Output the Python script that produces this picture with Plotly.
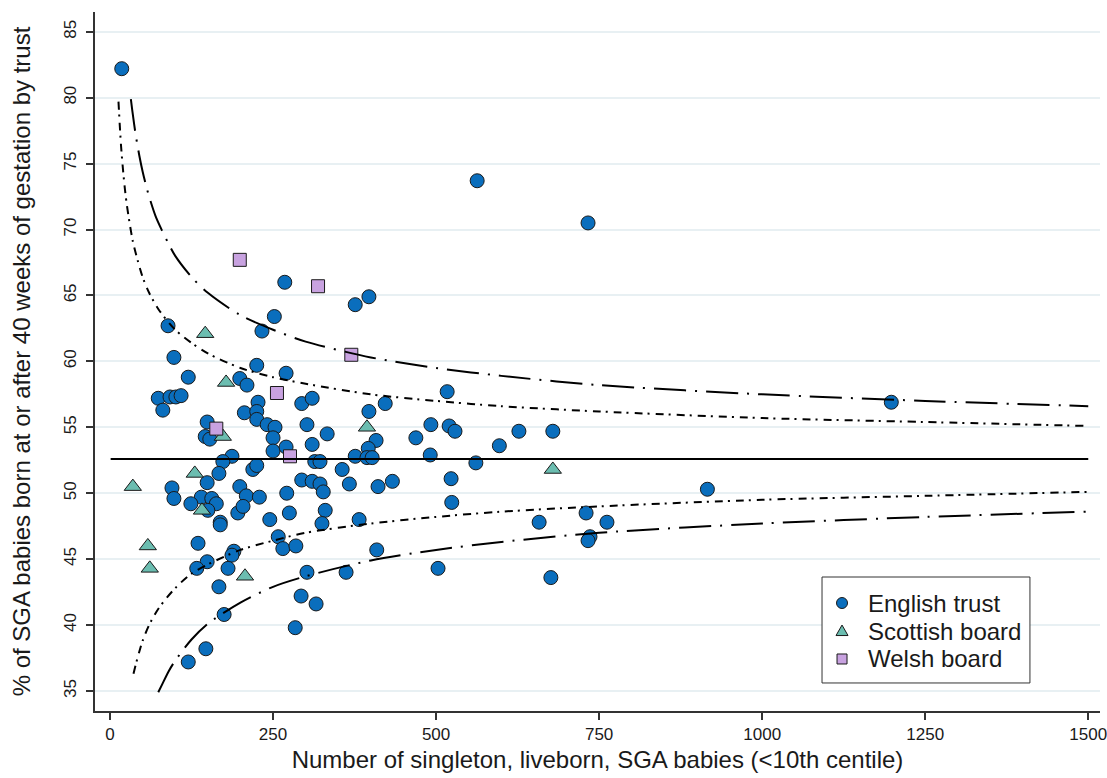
import plotly.graph_objects as go

# ---------------- data ----------------
eng_n = [18, 563, 733, 268, 376, 397, 252, 233, 89, 98,
         225, 270, 120, 199, 210, 74, 92, 101, 109, 81,
         227, 206, 225, 225, 241, 253, 149, 146, 153, 250,
         250, 270, 187, 173, 167, 219, 225, 149, 95, 98,
         199, 209, 229, 271, 140, 156, 163, 150, 124, 169,
         169, 196, 204, 245, 275, 258, 265, 135, 190, 187,
         149, 133, 181, 167, 175, 147, 120,
         517, 294, 310, 422, 397, 302, 333, 408, 469, 492, 520, 529,
         310, 396, 314, 322, 376, 394, 402, 491, 356, 294, 310, 322, 327, 367, 411, 433, 330, 382, 325, 285, 409,
         561, 523, 524, 302, 362, 503, 293, 316, 284,
         627, 679, 597,
         1198, 916, 762, 658, 676, 730, 736, 733]
eng_v = [82.2, 73.7, 70.5, 66.0, 64.3, 64.9, 63.4, 62.3, 62.7, 60.3,
         59.7, 59.1, 58.8, 58.7, 58.2, 57.2, 57.3, 57.3, 57.4, 56.3,
         56.9, 56.1, 56.2, 55.6, 55.2, 55.0, 55.4, 54.3, 54.1, 54.2,
         53.2, 53.5, 52.8, 52.4, 51.5, 51.8, 52.1, 50.8, 50.4, 49.6,
         50.5, 49.8, 49.7, 50.0, 49.7, 49.6, 49.2, 48.7, 49.2, 47.8,
         47.6, 48.5, 49.0, 48.0, 48.5, 46.7, 45.8, 46.2, 45.6, 45.3,
         44.8, 44.3, 44.3, 42.9, 40.8, 38.2, 37.2,
         57.7, 56.8, 57.2, 56.8, 56.2, 55.2, 54.5, 54.0, 54.2, 55.2, 55.1, 54.7,
         53.7, 53.4, 52.4, 52.4, 52.8, 52.7, 52.7, 52.9, 51.8, 51.0, 50.9, 50.7, 50.1, 50.7, 50.5, 50.9, 48.7, 48.0, 47.7, 46.0, 45.7,
         52.3, 51.1, 49.3, 44.0, 44.0, 44.3, 42.2, 41.6, 39.8,
         54.7, 54.7, 53.6,
         56.9, 50.3, 47.8, 47.8, 43.6, 48.5, 46.7, 46.4]

sco_n = [146, 178, 173, 130, 35, 141, 58, 61, 207, 394, 679]
sco_v = [62.1, 58.4, 54.3, 51.5, 50.5, 48.7, 46.0, 44.3, 43.7, 55.0, 51.8]

wel_n = [199, 319, 370, 256, 163, 276]
wel_v = [67.7, 65.7, 60.5, 57.6, 54.9, 52.8]

mean_n = [1, 1500]
mean_v = [52.6, 52.6]

# funnel limits
up_outer_n = [32, 34, 37, 40, 45, 50, 55, 60, 70, 80, 90, 100, 125, 150, 200, 250, 300, 400, 500, 600, 750, 1000, 1250, 1500]
up_outer_v = [79.9, 79.1, 78.0, 77.0, 75.6, 74.4, 73.4, 72.5, 71.0, 69.9, 68.9, 68.0, 66.4, 65.2, 63.5, 62.4, 61.5, 60.3, 59.5, 58.9, 58.2, 57.5, 57.0, 56.6]
up_inner_n = [13, 14, 15, 17, 20, 23, 26, 30, 35, 40, 50, 60, 75, 100, 125, 150, 200, 250, 300, 400, 500, 600, 750, 1000, 1250, 1500]
up_inner_v = [79.7, 78.8, 77.9, 76.3, 74.5, 73.0, 71.8, 70.5, 69.1, 68.1, 66.4, 65.2, 63.9, 62.4, 61.4, 60.6, 59.5, 58.8, 58.3, 57.5, 57.0, 56.6, 56.2, 55.7, 55.4, 55.1]
lo_inner_n = [36, 40, 45, 50, 60, 75, 100, 125, 150, 200, 250, 300, 400, 500, 600, 750, 1000, 1250, 1500]
lo_inner_v = [36.3, 37.1, 38.0, 38.8, 40.0, 41.3, 42.8, 43.9, 44.6, 45.7, 46.4, 47.0, 47.7, 48.2, 48.6, 49.0, 49.5, 49.8, 50.1]
lo_outer_n = [74, 80, 90, 100, 125, 150, 200, 250, 300, 400, 500, 600, 750, 1000, 1250, 1500]
lo_outer_v = [34.9, 35.5, 36.5, 37.3, 38.9, 40.1, 41.7, 42.9, 43.7, 44.9, 45.7, 46.3, 47.0, 47.7, 48.2, 48.6]

xticks = [0, 250, 500, 750, 1000, 1250, 1500]
yticks = [35, 40, 45, 50, 55, 60, 65, 70, 75, 80, 85]

legend_labels = ["English trust", "Scottish board", "Welsh board"]

FONT = "Liberation Sans, Arial, Helvetica, sans-serif"
TXT = "#1a1a1a"
C_ENG = "#0a6ebd"
C_SCO = "#6bbdb0"
C_WEL = "#c8a2e0"
OUT = "#1a1a1a"

fig = go.Figure()

mk_line = dict(color=OUT, width=1)
fig.add_trace(go.Scatter(x=eng_n, y=eng_v, mode="markers", name=legend_labels[0], showlegend=False,
                         marker=dict(symbol="circle", size=14, color=C_ENG, line=mk_line)))
fig.add_trace(go.Scatter(x=sco_n, y=sco_v, mode="markers", name=legend_labels[1], showlegend=False,
                         marker=dict(symbol="triangle-up", size=15, color=C_SCO, line=mk_line)))
fig.add_trace(go.Scatter(x=wel_n, y=wel_v, mode="markers", name=legend_labels[2], showlegend=False,
                         marker=dict(symbol="square", size=13, color=C_WEL, line=mk_line)))

outer_dash = "32px,9px,2px,9px"
inner_dash = "8px,5px,2px,6px"
for xs, ys, dash in [(up_outer_n, up_outer_v, outer_dash), (lo_outer_n, lo_outer_v, outer_dash),
                     (up_inner_n, up_inner_v, inner_dash), (lo_inner_n, lo_inner_v, inner_dash)]:
    fig.add_trace(go.Scatter(x=xs, y=ys, mode="lines", showlegend=False, hoverinfo="skip",
                             line=dict(color="black", width=2, dash=dash, shape="spline", smoothing=0.8)))
fig.add_trace(go.Scatter(x=mean_n, y=mean_v, mode="lines", showlegend=False, hoverinfo="skip",
                         line=dict(color="black", width=2)))

# ---- legend box (drawn in paper coordinates) ----
LX0, LX1, LY0, LY1 = 0.7234, 0.9303, 0.0401, 0.1917
SYM_X, TXT_X = 0.7433, 0.7672
ROW_Y = [0.1545, 0.1144, 0.0744]
shapes = [dict(type="rect", xref="paper", yref="paper", x0=LX0, x1=LX1, y0=LY0, y1=LY1,
               fillcolor="white", line=dict(color="#333333", width=1), layer="above")]
shapes.append(dict(type="circle", xref="paper", yref="paper", xsizemode="pixel", ysizemode="pixel",
                   xanchor=SYM_X, yanchor=ROW_Y[0], x0=-5.5, x1=5.5, y0=-5.5, y1=5.5,
                   fillcolor=C_ENG, line=dict(color=OUT, width=1), layer="above"))
shapes.append(dict(type="path", xref="paper", yref="paper", xsizemode="pixel", ysizemode="pixel",
                   xanchor=SYM_X, yanchor=ROW_Y[1], path="M -6,-4.5 L 6,-4.5 L 0,6 Z",
                   fillcolor=C_SCO, line=dict(color=OUT, width=1), layer="above"))
shapes.append(dict(type="rect", xref="paper", yref="paper", xsizemode="pixel", ysizemode="pixel",
                   xanchor=SYM_X, yanchor=ROW_Y[2], x0=-5, x1=5, y0=-5, y1=5,
                   fillcolor=C_WEL, line=dict(color=OUT, width=1), layer="above"))
annotations = [dict(xref="paper", yref="paper", x=TXT_X, y=yy, text=lab, showarrow=False,
                    xanchor="left", yanchor="middle", font=dict(family=FONT, size=24, color=TXT))
               for lab, yy in zip(legend_labels, ROW_Y)]

fig.update_layout(
    width=1107, height=778,
    margin=dict(l=95, r=7, t=12, b=67, autoexpand=False),
    paper_bgcolor="white", plot_bgcolor="white",
    font=dict(family=FONT, color=TXT, size=17),
    showlegend=False,
    shapes=shapes,
    annotations=annotations,
    xaxis=dict(range=[-23, 1518], tickvals=xticks, ticktext=[str(t) for t in xticks],
               showgrid=False, zeroline=False, showline=True, linecolor="#333333", linewidth=1.5,
               ticks="outside", ticklen=7, tickwidth=1.5, tickcolor="#333333",
               ticklabeloverflow="allow",
               tickfont=dict(size=17, family=FONT, color=TXT),
               title=dict(text="Number of singleton, liveborn, SGA babies (<10th centile)",
                          font=dict(size=24, family=FONT, color=TXT), standoff=8)),
    yaxis=dict(range=[33.48, 86.5], tickvals=yticks, ticktext=[str(t) for t in yticks],
               showgrid=True, gridcolor="#e8f0f3", gridwidth=2,
               zeroline=False, showline=True, linecolor="#333333", linewidth=1.5,
               ticks="outside", ticklen=7, tickwidth=1.5, tickcolor="#333333", tickangle=-90,
               ticklabeloverflow="allow", ticklabelstandoff=3,
               tickfont=dict(size=17, family=FONT, color=TXT),
               title=dict(text="% of SGA babies born at or after 40 weeks of gestation by trust",
                          font=dict(size=24, family=FONT, color=TXT), standoff=24)),
)

fig.write_html("out.html")
